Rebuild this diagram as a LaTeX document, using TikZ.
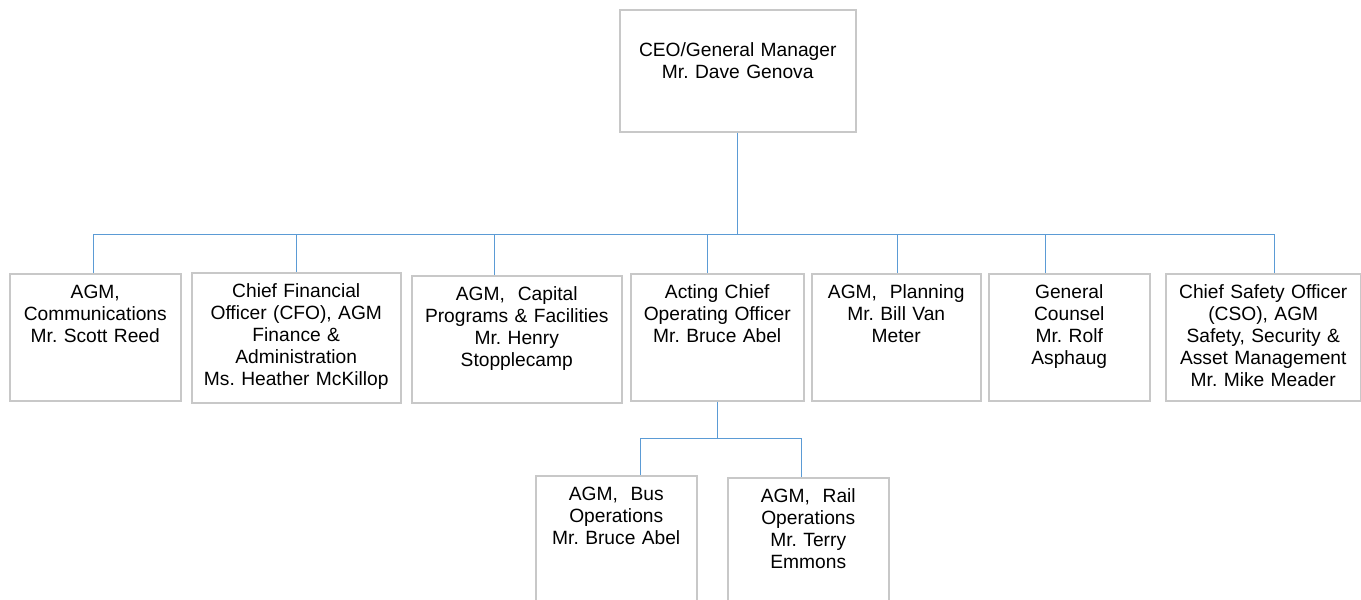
\documentclass[tikz,border=0pt]{standalone}
\usepackage{fontspec}
\setmainfont{Liberation Sans}
\usepackage{tikz}
\usetikzlibrary{positioning}
\definecolor{wireblue}{RGB}{91,155,213}
\definecolor{edgegray}{RGB}{200,200,200}
\frenchspacing
\begin{document}
\begin{tikzpicture}[x=1pt, y=-1pt, font=\fontsize{19.2}{22}\selectfont,
post/.style 2 args={draw=edgegray, line width=1.5pt, fill=white, inner sep=0pt,
anchor=north west, text width=#1, align=center, text height=25pt, text depth=#2},
wire/.style={draw=wireblue, line width=1pt}]

\clip (0,0) rectangle (1361,600);

\coordinate (j1) at (93,234);
\coordinate (j2) at (296,234);
\coordinate (j3) at (494,234);
\coordinate (j4) at (707,234);
\coordinate (j5) at (897,234);
\coordinate (j6) at (1045,234);
\coordinate (j7) at (1274,234);
\coordinate (k1) at (640,438);
\coordinate (k2) at (801,438);

\node [post={236pt}{75pt}, text height=47pt] (ceo) at (619,9) {CEO/General Manager\\Mr. Dave Genova};

\node [post={171pt}{102pt}] (comm) at (9,273) {AGM,\\Communications\\Mr. Scott Reed};
\node [post={209pt}{105pt}] (cfo) at (191,272) {Chief Financial\\Officer (CFO), AGM\\Finance \&\\Administration\\Ms. Heather McKillop};
\node [post={210pt}{102pt}] (cap) at (411,275) {AGM,~~Capital\\Programs \& Facilities\\Mr. Henry\\Stopplecamp};
\node [post={173pt}{102pt}] (coo) at (630,273) {Acting Chief\\Operating Officer\\Mr. Bruce Abel};
\node [post={169pt}{102pt}] (plan) at (811,273) {AGM,~~Planning\\Mr. Bill Van\\Meter};
\node [post={161pt}{102pt}] (gc) at (988,273) {General\\Counsel\\Mr. Rolf\\Asphaug};
\node [post={195pt}{102pt}] (cso) at (1165,273) {Chief Safety Officer\\(CSO), AGM\\Safety, Security \&\\Asset Management\\Mr. Mike Meader};

\node [post={161pt}{115pt}] (bus) at (535,475) {AGM,~~Bus\\Operations\\Mr. Bruce Abel};
\node [post={161pt}{115pt}] (rail) at (727,477) {AGM,~~Rail\\Operations\\Mr. Terry\\Emmons};

\path [wire] (ceo.south) -- (ceo.south |- j1);
\path [wire] (j1) -- (j7);
\path [wire] (j1) -- (j1 |- comm.north);
\path [wire] (j2) -- (j2 |- cfo.north);
\path [wire] (j3) -- (j3 |- cap.north);
\path [wire] (j4) -- (j4 |- coo.north);
\path [wire] (j5) -- (j5 |- plan.north);
\path [wire] (j6) -- (j6 |- gc.north);
\path [wire] (j7) -- (j7 |- cso.north);

\path [wire] (coo.south) -- (coo.south |- k1);
\path [wire] (k1) -- (k2);
\path [wire] (k1) -- (k1 |- bus.north);
\path [wire] (k2) -- (k2 |- rail.north);

\end{tikzpicture}
\end{document}
